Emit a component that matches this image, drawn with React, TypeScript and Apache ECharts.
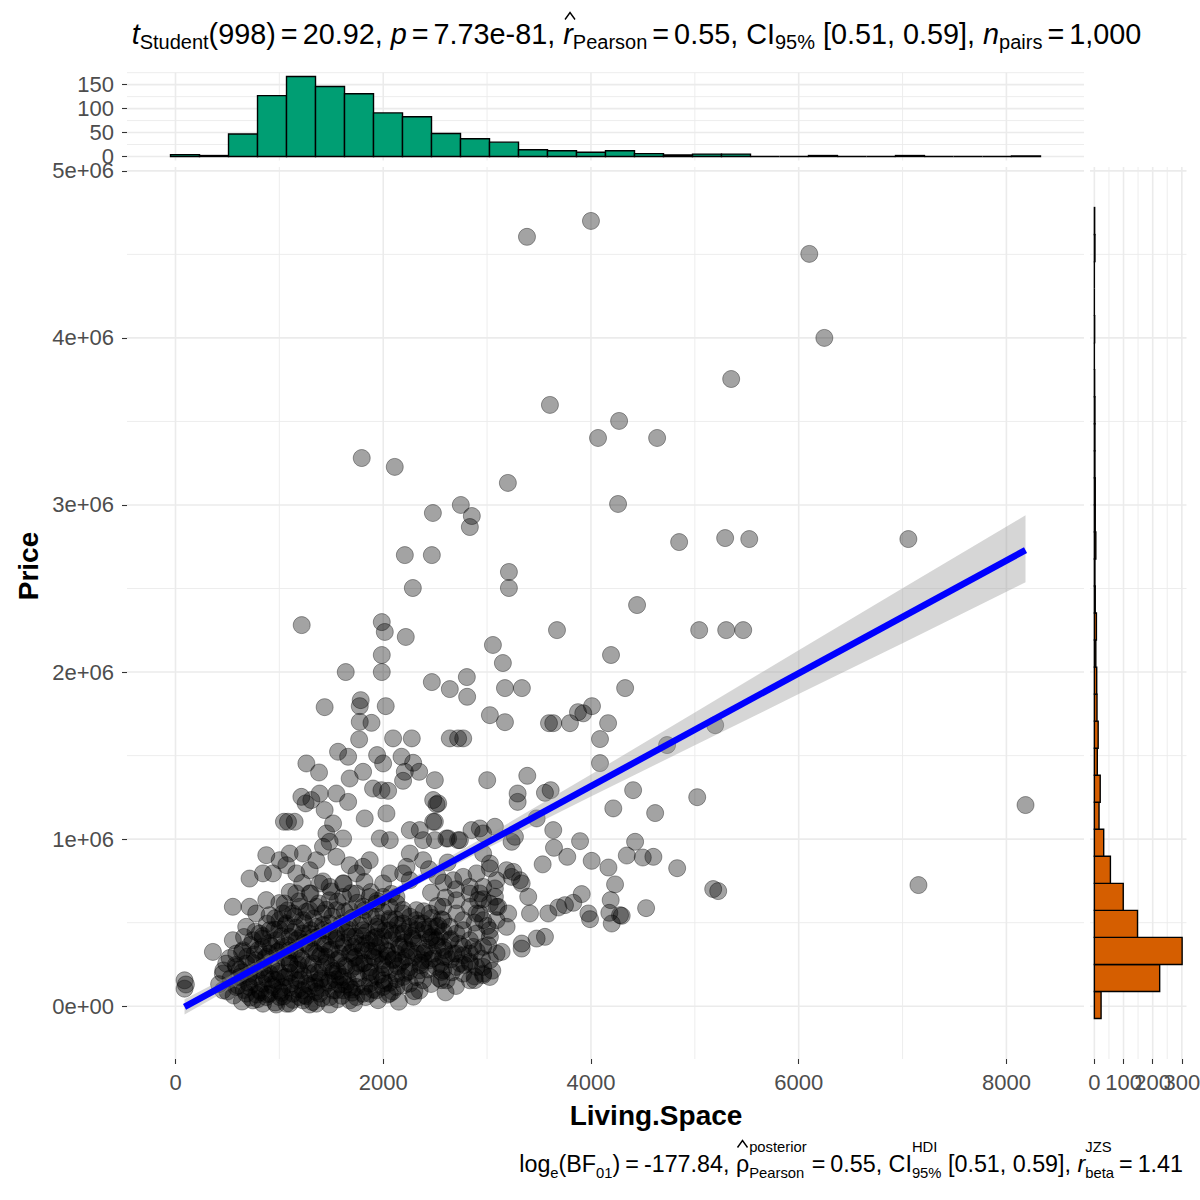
import React, { useEffect, useRef } from "react";
import * as echarts from "echarts";

const FONT = '"Liberation Sans", Arial, Helvetica, sans-serif';

// ---- scatter data: [Living.Space (sq ft), Price (thousand $)] ----
const sparsePoints: [number, number][] = [
  [4000, 4700], [3384, 4605], [6102, 4503], [6247, 4000], [5350, 3754], [3605, 3599], [4271, 3503],
  [4068, 3401], [4637, 3401], [1793, 3281], [2111, 3228], [3200, 3132], [2747, 3000], [4261, 3006],
  [2853, 2934], [2834, 2868], [2478, 2952], [7056, 2796], [3210, 2599], [3210, 2503], [4849, 2778],
  [5292, 2802], [5524, 2796], [2208, 2700], [2468, 2700], [2285, 2503], [1215, 2281], [1986, 2299],
  [2015, 2240], [2217, 2210], [3673, 2251], [4444, 2401], [5042, 2251], [5302, 2251], [5466, 2251],
  [4193, 2102], [1986, 2102], [3152, 2054], [1639, 2000], [1986, 2000], [3056, 2162], [2468, 1940],
  [2641, 1898], [2805, 1970], [3172, 1904], [3335, 1904], [4329, 1904], [1436, 1790], [1783, 1832],
  [4010, 1796], [3027, 1742], [3172, 1700], [3596, 1694], [3798, 1694], [3875, 1760], [4165, 1694],
  [5196, 1682], [4087, 1599], [4733, 1563], [4087, 1455], [4406, 1293], [4618, 1156], [5023, 1251],
  [8184, 1204], [7153, 725], [4830, 826], [5177, 701], [5225, 689], [4531, 587], [4280, 545],
];

const midRightPoints: [number, number][] = [
  [2808, 1852], [3637, 1694], [3926, 1753], [2641, 1603], [2721, 1603], [2770, 1603], [2497, 1353],
  [3001, 1353], [3387, 1379], [3294, 1273], [3294, 1223], [3557, 1277], [3612, 1293], [4215, 1184],
  [2513, 1208], [2497, 1104], [3477, 1124], [3637, 1054], [3895, 988], [4425, 984], [3644, 948],
  [3772, 894], [3535, 849], [4007, 870], [4168, 830], [4345, 902], [4499, 890], [4601, 894],
  [4232, 729], [4190, 635], [4296, 541], [4200, 495], [4177, 559], [3911, 671], [3991, 521],
  [3975, 555], [3589, 555], [3686, 591], [3750, 605], [3830, 619], [3413, 555], [3396, 655],
  [3252, 804], [3333, 735], [3557, 415], [3477, 405], [3333, 375], [3333, 345], [3140, 325],
  [2962, 186], [2882, 156], [2561, 156], [2561, 205], [3203, 555], [3107, 595], [3075, 655],
  [2914, 635], [2930, 555], [3188, 475], [3027, 415], [3011, 365], [2866, 355], [2770, 305],
  [2834, 265], [2738, 256], [2770, 774], [2674, 754], [2899, 795], [3027, 825], [2834, 714],
  [2930, 675], [3075, 705], [3188, 814], [3236, 774], [3316, 754], [2930, 1064], [2850, 1054],
  [3075, 1074], [2962, 914], [3027, 854], [3236, 984], [3268, 1014], [2625, 1004], [2721, 994],
  [2497, 994], [2480, 420], [2560, 520], [2600, 650], [2650, 280], [2520, 600], [2700, 700],
  [2580, 740], [2460, 680], [2880, 500], [2900, 330], [3000, 480], [2960, 640], [2520, 780],
  [2620, 860], [2440, 820],
];

const midLeftPoints: [number, number][] = [
  [1774, 1796], [2024, 1796], [1774, 1702], [1887, 1696], [1768, 1597], [2095, 1603], [2275, 1603],
  [1565, 1523], [1662, 1493], [1260, 1453], [1382, 1399], [1806, 1403], [1941, 1503], [1999, 1453],
  [2176, 1493], [2288, 1457], [2346, 1403], [2208, 1403], [2191, 1349], [2047, 1289], [1983, 1293],
  [1902, 1303], [2481, 1234], [2529, 1214], [1677, 1363], [1549, 1273], [1662, 1223], [1388, 1273],
  [1308, 1234], [1212, 1253], [1253, 1214], [1083, 1104], [1147, 1104], [1044, 1104], [1436, 1174],
  [1517, 1094], [1453, 1034], [1614, 1004], [1484, 984], [1822, 1124], [2031, 1154], [1967, 1004],
  [2063, 994], [2256, 1054], [2352, 1054], [2481, 1104], [2384, 994], [2609, 1004], [2738, 994],
  [2962, 1034], [2256, 914], [2224, 834], [2063, 795], [1999, 735], [2192, 795], [2384, 874],
  [2256, 754], [874, 904], [1003, 874], [1099, 914], [1227, 914], [713, 764], [842, 795], [938, 795],
  [1067, 844], [1163, 795], [1292, 814], [552, 595], [713, 595], [874, 635], [777, 555], [906, 545],
  [1051, 615], [1163, 675], [1292, 675], [1388, 735], [1484, 714], [1613, 735], [1742, 795],
  [1870, 874], [1806, 834], [1677, 844], [1549, 894], [1420, 954], [1356, 874],
];

const denseCorePoints: [number, number][] = [
  [360, 325], [87, 155], [87, 105], [100, 130], [456, 195], [585, 235], [649, 335], [552, 395],
  [745, 395], [906, 455], [1067, 495], [1227, 515], [777, 275], [906, 315], [1034, 355], [1163, 395],
  [1291, 435], [1420, 455], [1549, 435], [1677, 415], [1806, 455], [1934, 475], [2063, 515],
  [2191, 555], [2320, 575], [2448, 555], [2577, 595], [2705, 634], [2834, 674], [2962, 714],
  [3091, 754], [3026, 614], [2898, 555], [2769, 515], [2705, 435], [2834, 395], [2962, 355],
  [3026, 275], [2898, 235], [2769, 195], [2609, 155], [2512, 235], [2384, 275], [2255, 235],
  [2127, 195], [1998, 155], [1870, 135], [1741, 115], [1613, 95], [1484, 55], [1356, 15], [1227, 35],
  [1099, 15], [970, 10], [842, 15], [906, 75], [1034, 115], [1163, 155], [1291, 195], [1420, 235],
  [1549, 275], [1677, 315], [1806, 335], [1934, 355], [2063, 395], [2191, 435], [2320, 455],
  [2448, 395], [2577, 355], [2673, 315], [2384, 315], [2255, 335], [2127, 315], [1998, 275],
  [1870, 235], [1741, 195], [1613, 175], [1484, 155], [1356, 115], [1227, 95], [1099, 115], [970, 155],
  [842, 135], [713, 115], [585, 115], [456, 95], [713, 195], [842, 235], [970, 255], [1099, 255],
  [1227, 275], [1356, 315], [1484, 335], [1613, 355], [1741, 375], [1870, 395], [1998, 415],
  [2127, 435], [2255, 475], [2384, 495], [2512, 475], [2641, 475], [2769, 455], [2898, 435],
  [3026, 455], [3091, 515], [2962, 195], [2834, 155], [3026, 175], [2577, 215], [2191, 175],
  [2384, 155], [2127, 115], [1998, 115], [1291, 10], [1484, 10], [1677, 35], [1806, 75], [1934, 95],
  [1099, 335], [842, 355], [585, 315], [488, 255],
];

const denseFillPoints: [number, number][] = [
  [681, 75], [809, 95], [938, 115], [1067, 175], [1195, 215], [1324, 255], [1452, 295], [1581, 315],
  [1709, 355], [1838, 375], [1966, 315], [2095, 275], [2223, 295], [2352, 215], [2480, 315],
  [2544, 415], [2416, 435], [2287, 395], [2159, 355], [2031, 335], [1902, 295], [1773, 255],
  [1645, 235], [1516, 195], [1388, 155], [1259, 135], [1131, 75], [1002, 55], [874, 55], [745, 35],
  [1677, 115], [1870, 75], [2063, 75], [2255, 135], [1741, 55], [1549, 95], [1388, 75], [1195, 55],
  [1067, 15], [906, 195], [1002, 195], [777, 175], [617, 175], [681, 255], [874, 295], [1002, 335],
  [1163, 315], [1291, 355], [1420, 375], [1549, 395], [1677, 475], [1806, 515], [1934, 535],
  [1484, 495], [1356, 475], [1227, 435], [1099, 415], [970, 395], [809, 435], [681, 475], [1002, 515],
  [1131, 555], [1291, 575], [1420, 555], [1549, 575], [1677, 575], [1806, 595], [1934, 614],
  [2063, 595], [2127, 654], [1998, 654], [1870, 654], [1741, 674], [1613, 654], [1484, 634],
  [1356, 595], [1195, 595], [1034, 555], [2191, 275], [2320, 315], [2448, 275], [2577, 295],
  [2705, 315], [2834, 315], [2769, 355], [2641, 395], [2512, 395], [2705, 555], [2577, 515],
  [2448, 475], [2320, 515], [2191, 495], [2063, 455], [1934, 415], [2834, 595], [2962, 515],
  [3091, 595], [2834, 255], [2705, 235], [2962, 235], [3091, 315],
];

const denseExtraPoints: [number, number][] = [
  [640, 28], [790, 42], [960, 22], [1130, 38], [1320, 25], [1560, 41], [1720, 18], [1950, 36], [2150, 27],
  [560, 64], [720, 52], [880, 71], [1040, 58], [1240, 66], [1410, 49], [1600, 62], [1830, 55], [2040, 69], [2290, 57],
  [500, 88], [660, 97], [820, 84], [1000, 93], [1180, 102], [1350, 86], [1520, 95], [1700, 81], [1900, 99], [2090, 88], [2350, 94], [2600, 83],
  [420, 132], [600, 124], [760, 138], [930, 127], [1110, 135], [1290, 122], [1470, 140], [1640, 129], [1820, 118], [2010, 137], [2200, 126], [2460, 133], [2700, 121],
  [530, 166], [700, 178], [880, 163], [1050, 172], [1230, 181], [1400, 164], [1580, 176], [1760, 168], [1940, 180], [2130, 162], [2320, 174], [2540, 167], [2880, 178],
  [460, 214], [640, 203], [810, 217], [990, 206], [1160, 219], [1340, 204], [1520, 212], [1690, 221], [1880, 205], [2060, 216], [2250, 208], [2430, 220], [2660, 203], [3050, 213],
  [580, 246], [750, 258], [920, 243], [1100, 255], [1280, 248], [1450, 261], [1630, 244], [1810, 257], [1990, 249], [2170, 262], [2360, 245], [2550, 254], [2780, 247],
  [520, 288], [690, 296], [860, 283], [1040, 294], [1210, 286], [1390, 299], [1570, 284], [1740, 297], [1920, 288], [2100, 281], [2290, 293], [2480, 286], [2610, 298], [2950, 284],
  [640, 326], [800, 337], [980, 324], [1150, 335], [1330, 328], [1500, 339], [1690, 322], [1860, 333], [2040, 327], [2220, 340], [2400, 325], [2590, 336],
  [720, 366], [900, 378], [1080, 364], [1260, 375], [1440, 368], [1620, 379], [1790, 363], [1970, 374], [2150, 367], [2340, 377], [2520, 362], [2730, 373],
  [660, 414], [840, 405], [1020, 418], [1190, 407], [1370, 415], [1550, 404], [1730, 417], [1910, 408], [2090, 419], [2280, 406], [2460, 413], [2650, 402],
  [770, 446], [950, 457], [1130, 444], [1300, 455], [1480, 448], [1660, 459], [1840, 443], [2020, 454], [2200, 447], [2390, 458], [2580, 445],
  [880, 494], [1060, 485], [1240, 497], [1420, 486], [1600, 495], [1780, 484], [1960, 496], [2140, 487], [2330, 493], [2530, 482],
  [960, 527], [1150, 538], [1330, 525], [1510, 536], [1700, 529], [1880, 540], [2060, 524], [2260, 535], [2470, 528],
  [1080, 574], [1260, 565], [1450, 577], [1630, 566], [1820, 575], [2000, 563], [2190, 576], [2390, 568],
  [1000, 617], [1190, 628], [1380, 615], [1560, 626], [1750, 619], [1940, 630], [2130, 614],
  [1100, 684], [1300, 675], [1500, 687], [1690, 676], [1880, 683], [2080, 672],
  [1220, 738], [1420, 747], [1620, 735], [1820, 744],
  [700, 140], [860, 190], [1020, 80], [1180, 250], [1340, 140], [1500, 230], [1660, 150], [1820, 260],
  [1980, 190], [2140, 240], [2300, 90], [760, 310], [920, 360], [1080, 290], [1240, 380], [1400, 310],
  [1560, 210], [1720, 290], [1880, 170], [2040, 300], [2200, 380], [2360, 260], [620, 220], [780, 70],
  [940, 160], [1100, 200], [1260, 60], [1420, 110], [1580, 130], [1740, 240], [1900, 330], [2060, 140],
  [2220, 200], [2420, 350], [840, 420], [1000, 460], [1160, 470], [1320, 410], [1480, 420], [1640, 440],
  [1800, 420], [1960, 460], [2120, 520], [2280, 420], [1200, 160], [1380, 200], [1540, 160], [1700, 100],
  [1860, 200], [2020, 230],
];

// ---- marginal histograms ----
const X_BIN_START = -48;
const X_BIN_WIDTH = 279.2;
const livingSpaceCounts = [4, 2, 47, 127, 167, 146, 131, 91, 83, 48, 37, 30, 14, 12, 9, 12, 6, 3, 5, 5, 0, 0, 2, 0, 0, 2, 0, 0, 0, 1];
const Y_BIN_START = -73600;
const Y_BIN_WIDTH = 161800;
const priceCounts = [23, 224, 301, 148, 99, 55, 32, 16, 20, 10, 13, 9, 8, 5, 7, 3, 2, 5, 3, 3, 2, 2, 2, 1, 0, 1, 0, 0, 2, 1];

// ---- linear fit and 95% band ----
const fitX = [87, 8184];
const fitY = [-4000, 2730000];
const ciX = [87, 1000, 2000, 3000, 4000, 5000, 6000, 7000, 8184];
const ciLow = [-50000, 273000, 620000, 945000, 1255000, 1562000, 1868000, 2173000, 2538000];
const ciHigh = [42000, 337000, 668000, 1021000, 1387000, 1758000, 2130000, 2501000, 2938000];

// ---- ticks / grid ----
const xTicks = [0, 2000, 4000, 6000, 8000];
const xMinor = [1000, 3000, 5000, 7000];
const yTicks = [0, 1000000, 2000000, 3000000, 4000000, 5000000];
const yTickLabels = ["0e+00", "1e+06", "2e+06", "3e+06", "4e+06", "5e+06"];
const yMinor = [500000, 1500000, 2500000, 3500000, 4500000];
const topCountTicks = [0, 50, 100, 150];
const topCountMinor = [25, 75, 125, 175];
const rightCountTicks = [0, 100, 200, 300];
const rightCountMinor = [50, 150, 250];

type Frag = { k: "n" | "i" | "sub" | "ss"; t?: string; sup?: string; sub?: string; hat?: boolean; pad?: number };

const titleFrags: Frag[] = [
  { k: "i", t: "t" }, { k: "sub", t: "Student" }, { k: "n", t: "(998)" }, { k: "n", t: "=", pad: 5 },
  { k: "n", t: "20.92, " }, { k: "i", t: "p" }, { k: "n", t: "=", pad: 5 }, { k: "n", t: "7.73e-81, " },
  { k: "i", t: "r", hat: true }, { k: "sub", t: "Pearson" }, { k: "n", t: "=", pad: 5 }, { k: "n", t: "0.55, CI" },
  { k: "sub", t: "95%" }, { k: "n", t: " [0.51, 0.59], " }, { k: "i", t: "n" }, { k: "sub", t: "pairs" },
  { k: "n", t: "=", pad: 5 }, { k: "n", t: "1,000" },
];

const captionFrags: Frag[] = [
  { k: "n", t: "log" }, { k: "sub", t: "e" }, { k: "n", t: "(BF" }, { k: "sub", t: "01" }, { k: "n", t: ")" },
  { k: "n", t: "=", pad: 5 }, { k: "n", t: "-177.84, " }, { k: "n", t: "ρ", hat: true },
  { k: "ss", sup: "posterior", sub: "Pearson" }, { k: "n", t: "=", pad: 5 }, { k: "n", t: "0.55, CI" },
  { k: "ss", sup: "HDI", sub: "95%" }, { k: "n", t: " [0.51, 0.59], " }, { k: "i", t: "r" },
  { k: "ss", sup: "JZS", sub: "beta" }, { k: "n", t: "=", pad: 5 }, { k: "n", t: "1.41" },
];

function layoutMath(
  frags: Frag[],
  o: { size: number; subSize: number; y: number; subY: number; supY: number; hatY: number; anchor: number; align: "center" | "right" }
) {
  const canvas = document.createElement("canvas");
  const ctx = canvas.getContext("2d")!;
  const meas = (t: string, sz: number, it: boolean) => {
    ctx.font = `${it ? "italic " : ""}${sz}px ${FONT}`;
    return ctx.measureText(t).width;
  };
  const items = frags.map((f) => {
    if (f.k === "ss") return { f, w: Math.max(meas(f.sup!, o.subSize, false), meas(f.sub!, o.subSize, false)) };
    const sz = f.k === "sub" ? o.subSize : o.size;
    return { f, w: 2 * (f.pad || 0) + meas(f.t!, sz, f.k === "i") };
  });
  const total = items.reduce((s, it) => s + it.w, 0);
  let x = o.align === "center" ? o.anchor - total / 2 : o.anchor - total;
  const els: any[] = [];
  const txt = (tx: number, ty: number, t: string, sz: number, it: boolean) => ({
    type: "text",
    x: tx,
    y: ty,
    silent: true,
    style: {
      text: t,
      fontSize: sz,
      fontFamily: FONT,
      fontStyle: it ? "italic" : "normal",
      fill: "#000000",
      textAlign: "left",
      textVerticalAlign: "middle",
      align: "left",
      verticalAlign: "middle",
    },
  });
  for (const { f, w } of items) {
    if (f.k === "ss") {
      els.push(txt(x, o.supY, f.sup!, o.subSize, false));
      els.push(txt(x, o.subY, f.sub!, o.subSize, false));
    } else {
      const sz = f.k === "sub" ? o.subSize : o.size;
      const it = f.k === "i";
      const tx = x + (f.pad || 0);
      els.push(txt(tx, f.k === "sub" ? o.subY : o.y, f.t!, sz, it));
      if (f.hat) {
        const cx = tx + meas(f.t!, sz, it) / 2 + (it ? 2 : 0);
        els.push({
          type: "polyline",
          silent: true,
          shape: { points: [[cx - 5, o.hatY + 3.5], [cx, o.hatY - 3.5], [cx + 5, o.hatY + 3.5]] },
          style: { stroke: "#000000", lineWidth: 1.4, fill: null },
        });
      }
    }
    x += w;
  }
  return els;
}

const GRID_COLOR = "#EBEBEB";

function gridLinesSeries(idx: number, xs: number[], xsMinor: number[], ys: number[], ysMinor: number[]) {
  const data = [
    ...xs.map((v) => [v, 0, 1]),
    ...xsMinor.map((v) => [v, 0, 0]),
    ...ys.map((v) => [v, 1, 1]),
    ...ysMinor.map((v) => [v, 1, 0]),
  ];
  return {
    type: "custom",
    xAxisIndex: idx,
    yAxisIndex: idx,
    silent: true,
    z: 0,
    data,
    renderItem: (params: any, api: any) => {
      const cs = params.coordSys;
      const v = api.value(0);
      const dir = api.value(1);
      const major = api.value(2);
      const style = { stroke: GRID_COLOR, lineWidth: major ? 1.6 : 0.9 };
      if (dir === 0) {
        const px = api.coord([v, 0])[0];
        return { type: "line", shape: { x1: px, y1: cs.y, x2: px, y2: cs.y + cs.height }, style };
      }
      const py = api.coord([0, v])[1];
      return { type: "line", shape: { x1: cs.x, y1: py, x2: cs.x + cs.width, y2: py }, style };
    },
  };
}

export default function App() {
  const ref = useRef<HTMLDivElement>(null);
  useEffect(() => {
    document.body.style.margin = "0";
    const chart = echarts.init(ref.current!, null, { renderer: "svg" });

    const X_MIN = -467, X_MAX = 8747;
    const Y_MIN = -316000, Y_MAX = 5023000;

    const tick = { show: true, length: 5, lineStyle: { color: "#333333", width: 1.1 } };
    const label = { color: "#4D4D4D", fontSize: 22, fontFamily: FONT };
    const hidden = {
      axisLine: { show: false, onZero: false },
      axisTick: { show: false },
      axisLabel: { show: false },
      splitLine: { show: false },
    };

    const points = [
      ...sparsePoints, ...midRightPoints, ...midLeftPoints, ...denseCorePoints, ...denseFillPoints, ...denseExtraPoints,
    ].map(([x, yk]) => [x, yk * 1000]);
    const xHistData = livingSpaceCounts.map((c, i) => [X_BIN_START + i * X_BIN_WIDTH, X_BIN_START + (i + 1) * X_BIN_WIDTH, c]);
    const yHistData = priceCounts.map((c, i) => [Y_BIN_START + i * Y_BIN_WIDTH, Y_BIN_START + (i + 1) * Y_BIN_WIDTH, c]);

    const titleEls = layoutMath(titleFrags, {
      size: 28.8, subSize: 20, y: 33.5, subY: 42, supY: 20, hatY: 16, anchor: 636.5, align: "center",
    });
    const captionEls = layoutMath(captionFrags, {
      size: 23.3, subSize: 14.8, y: 1163.5, subY: 1172.5, supY: 1147, hatY: 1144, anchor: 1183, align: "right",
    });

    const option: any = {
      animation: false,
      backgroundColor: "#FFFFFF",
      grid: [
        { left: 127, top: 167, width: 957, height: 892 },
        { left: 127, top: 72.5, width: 957, height: 88 },
        { left: 1090, top: 167, width: 96.5, height: 892 },
      ],
      xAxis: [
        {
          gridIndex: 0, type: "value", min: X_MIN, max: X_MAX,
          axisLine: { show: false, onZero: false },
          axisTick: { ...tick, customValues: xTicks },
          axisLabel: { ...label, margin: 12, customValues: xTicks, formatter: (v: number) => String(v) },
          splitLine: { show: false },
        },
        { gridIndex: 1, type: "value", min: X_MIN, max: X_MAX, ...hidden },
        {
          gridIndex: 2, type: "value", min: -15, max: 316,
          axisLine: { show: false, onZero: false },
          axisTick: { ...tick, customValues: rightCountTicks },
          axisLabel: { show: false },
          splitLine: { show: false },
        },
      ],
      yAxis: [
        {
          gridIndex: 0, type: "value", min: Y_MIN, max: Y_MAX,
          axisLine: { show: false, onZero: false },
          axisTick: { ...tick, customValues: yTicks },
          axisLabel: {
            ...label, margin: 13, customValues: yTicks, showMinLabel: true, showMaxLabel: true,
            formatter: (v: number) => yTickLabels[yTicks.indexOf(v)] ?? "",
          },
          splitLine: { show: false },
        },
        {
          gridIndex: 1, type: "value", min: -8.35, max: 175.35,
          axisLine: { show: false, onZero: false },
          axisTick: { ...tick, customValues: topCountTicks },
          axisLabel: {
            ...label, margin: 13, customValues: topCountTicks, showMinLabel: true, showMaxLabel: true,
            formatter: (v: number) => String(v),
          },
          splitLine: { show: false },
        },
        { gridIndex: 2, type: "value", min: Y_MIN, max: Y_MAX, ...hidden },
      ],
      series: [
        gridLinesSeries(0, xTicks, xMinor, yTicks, yMinor),
        gridLinesSeries(1, xTicks, xMinor, topCountTicks, topCountMinor),
        gridLinesSeries(2, rightCountTicks, rightCountMinor, yTicks, yMinor),
        {
          // tick labels of the right marginal histogram (they overlap, as in the reference)
          type: "custom", xAxisIndex: 2, yAxisIndex: 2, silent: true, z: 5, clip: false,
          data: rightCountTicks.map((v) => [v, 0]),
          renderItem: (params: any, api: any) => {
            const cs = params.coordSys;
            const v = api.value(0);
            const px = api.coord([v, 0])[0];
            return {
              type: "text",
              x: px,
              y: cs.y + cs.height + 23,
              style: {
                text: String(v), fontSize: 22, fontFamily: FONT, fill: "#4D4D4D",
                textAlign: "center", textVerticalAlign: "middle", align: "center", verticalAlign: "middle",
              },
            };
          },
        },
        {
          type: "custom", xAxisIndex: 1, yAxisIndex: 1, silent: true, z: 2,
          data: xHistData, encode: { x: [0, 1], y: 2 },
          renderItem: (_p: any, api: any) => {
            const a = api.coord([api.value(0), api.value(2)]);
            const b = api.coord([api.value(1), 0]);
            return {
              type: "rect",
              shape: { x: a[0], y: a[1], width: b[0] - a[0], height: b[1] - a[1] },
              style: { fill: "#009E73", stroke: "#000000", lineWidth: 1.4 },
            };
          },
        },
        {
          type: "custom", xAxisIndex: 2, yAxisIndex: 2, silent: true, z: 2,
          data: yHistData, encode: { x: 2, y: [0, 1] },
          renderItem: (_p: any, api: any) => {
            const a = api.coord([api.value(2), api.value(1)]);
            const b = api.coord([0, api.value(0)]);
            return {
              type: "rect",
              shape: { x: b[0], y: a[1], width: a[0] - b[0], height: b[1] - a[1] },
              style: { fill: "#D55E00", stroke: "#000000", lineWidth: 1.4 },
            };
          },
        },
        {
          type: "scatter", xAxisIndex: 0, yAxisIndex: 0, silent: true, z: 2,
          symbol: "circle", symbolSize: 17, large: false,
          data: points,
          itemStyle: { color: "rgba(0,0,0,0.45)", borderColor: "rgba(0,0,0,0.45)", borderWidth: 1 },
        },
        {
          type: "custom", xAxisIndex: 0, yAxisIndex: 0, silent: true, z: 3,
          data: [[0, 0]],
          renderItem: (_p: any, api: any) => {
            const upper = ciX.map((x, i) => api.coord([x, ciHigh[i]]));
            const lower = ciX.map((x, i) => api.coord([x, ciLow[i]])).reverse();
            return {
              type: "polygon",
              shape: { points: [...upper, ...lower] },
              style: { fill: "rgba(153,153,153,0.4)" },
            };
          },
        },
        {
          type: "line", xAxisIndex: 0, yAxisIndex: 0, silent: true, z: 4,
          data: fitX.map((x, i) => [x, fitY[i]]),
          showSymbol: false, symbol: "none",
          lineStyle: { color: "#0000FF", width: 6.5 },
        },
      ],
      graphic: [
        ...titleEls,
        ...captionEls,
        {
          type: "text", x: 28, y: 566, rotation: Math.PI / 2, silent: true,
          style: {
            text: "Price", fontSize: 28, fontWeight: "bold", fontFamily: FONT, fill: "#000000",
            textAlign: "center", textVerticalAlign: "middle", align: "center", verticalAlign: "middle",
          },
        },
        {
          type: "text", x: 656, y: 1115, silent: true,
          style: {
            text: "Living.Space", fontSize: 28, fontWeight: "bold", fontFamily: FONT, fill: "#000000",
            textAlign: "center", textVerticalAlign: "middle", align: "center", verticalAlign: "middle",
          },
        },
      ],
    };
    chart.setOption(option);
    return () => chart.dispose();
  }, []);
  return <div ref={ref} style={{ position: "absolute", left: 0, top: 0, width: 1200, height: 1200 }} />;
}
